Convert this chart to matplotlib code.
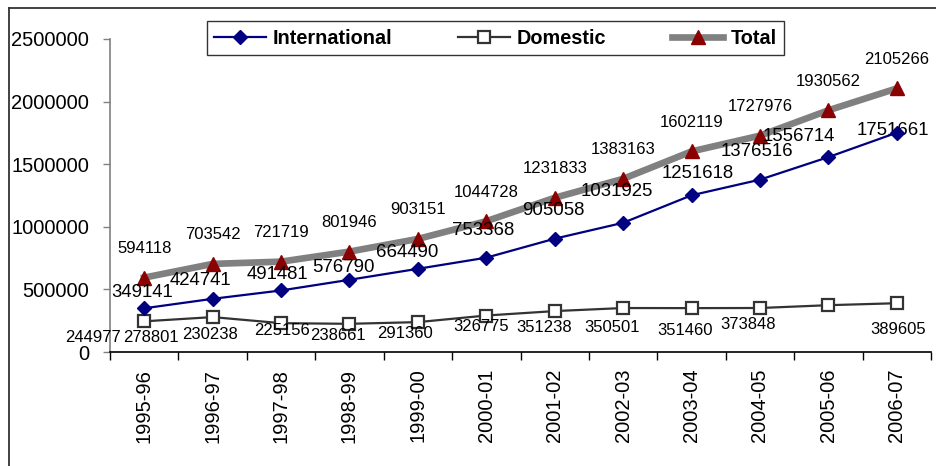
import matplotlib.pyplot as plt
from matplotlib.lines import Line2D

years = ['1995-96', '1996-97', '1997-98', '1998-99', '1999-00', '2000-01',
         '2001-02', '2002-03', '2003-04', '2004-05', '2005-06', '2006-07']
international = [349141, 424741, 491481, 576790, 664490, 753368,
                 905058, 1031925, 1251618, 1376516, 1556714, 1751661]
domestic = [244977, 278801, 230238, 225156, 238661, 291360,
            326775, 351238, 350501, 351460, 373848, 389605]
total = [594118, 703542, 721719, 801946, 903151, 1044728,
         1231833, 1383163, 1602119, 1727976, 1930562, 2105266]
y_ticks = [0, 500000, 1000000, 1500000, 2000000, 2500000]

# label offsets in pixels (dx, dy) - the labels were dragged around in the original
int_offsets = [(-2, 16), (-12, 18), (-4, 16), (-6, 12), (-11, 16), (-3, 27),
               (-1, 28), (-6, 31), (6, 22), (-3, 28), (-30, 21), (-4, 2)]
dom_offsets = [(-51, -16), (-62, -20), (-71, -11), (-67, -7), (-80, -13), (-81, -18),
               (-74, -15), (-79, -19), (-79, -19), (-75, -23), (-80, -19), (1, -26)]

plt.rcParams['font.family'] = ['Liberation Sans', 'DejaVu Sans']

fig = plt.figure(figsize=(9.37, 4.66), dpi=100)
ax = fig.add_axes([110 / 937, 114 / 466, 821 / 937, 313 / 466])
x = list(range(len(years)))

ax.plot(x, total, color='#808080', lw=4.8, marker='^', markersize=10,
        markerfacecolor='#8b0000', markeredgecolor='#8b0000', zorder=2, label='Total')
ax.plot(x, domestic, color='#333333', lw=1.6, marker='s', markersize=8,
        markerfacecolor='white', markeredgecolor='#333333', markeredgewidth=1.6,
        zorder=3, label='Domestic')
ax.plot(x, international, color='#000080', lw=1.6, marker='D', markersize=7,
        markerfacecolor='#000080', markeredgecolor='#000080', zorder=5, label='International')

# data labels
for i, v in enumerate(total):
    ax.annotate(str(v), (i, v), xytext=(0, 29), textcoords='offset pixels',
                ha='center', va='center', fontsize=12, zorder=4)
for i, v in enumerate(international):
    dx, dy = int_offsets[i]
    ax.annotate(str(v), (i, v), xytext=(dx, dy), textcoords='offset pixels',
                ha='center', va='center', fontsize=13.4, zorder=4)
for i, v in enumerate(domestic):
    dx, dy = dom_offsets[i]
    ax.annotate(str(v), (i, v), xytext=(dx, dy), textcoords='offset pixels',
                ha='center', va='center', fontsize=12, zorder=4)

ax.set_xlim(-0.5, len(years) - 0.5)
ax.set_ylim(0, 2500000)
ax.set_yticks(y_ticks)
ax.set_yticklabels([str(t) for t in y_ticks], fontsize=14.5)
ax.tick_params(axis='y', length=5, width=1, color='#808080', pad=10, direction='out')

ax.set_xticks(x)
ax.set_xticklabels(years, rotation=90, fontsize=14.5, va='top')
ax.set_xticks([i - 0.5 for i in range(len(years) + 1)], minor=True)
ax.tick_params(axis='x', which='major', length=0, pad=12)
ax.tick_params(axis='x', which='minor', length=6, width=1, color='black')

for side in ['top', 'right']:
    ax.spines[side].set_visible(False)
ax.spines['left'].set_color('#808080')
ax.spines['left'].set_linewidth(1.2)
ax.spines['bottom'].set_color('black')
ax.spines['bottom'].set_linewidth(1.2)

handles, labels = ax.get_legend_handles_labels()
leg = fig.legend(handles[::-1], labels[::-1], ncol=3, loc='center',
                 bbox_to_anchor=(495.5 / 937, 1 - 38 / 466),
                 prop={'weight': 'bold', 'size': 14.3},
                 frameon=True, fancybox=False, edgecolor='black',
                 handlelength=2.6, columnspacing=3.3, handletextpad=0.35,
                 borderpad=0.4, borderaxespad=0)
leg.get_frame().set_linewidth(1.0)

# outer chart border (top and left visible in the crop)
fig.add_artist(Line2D([9 / 937, 9 / 937], [0, 1 - 8 / 466], color='#333333', lw=1.3))
fig.add_artist(Line2D([9 / 937, 1], [1 - 8 / 466, 1 - 8 / 466], color='#333333', lw=1.3))

fig.savefig('out.png', dpi=100)
